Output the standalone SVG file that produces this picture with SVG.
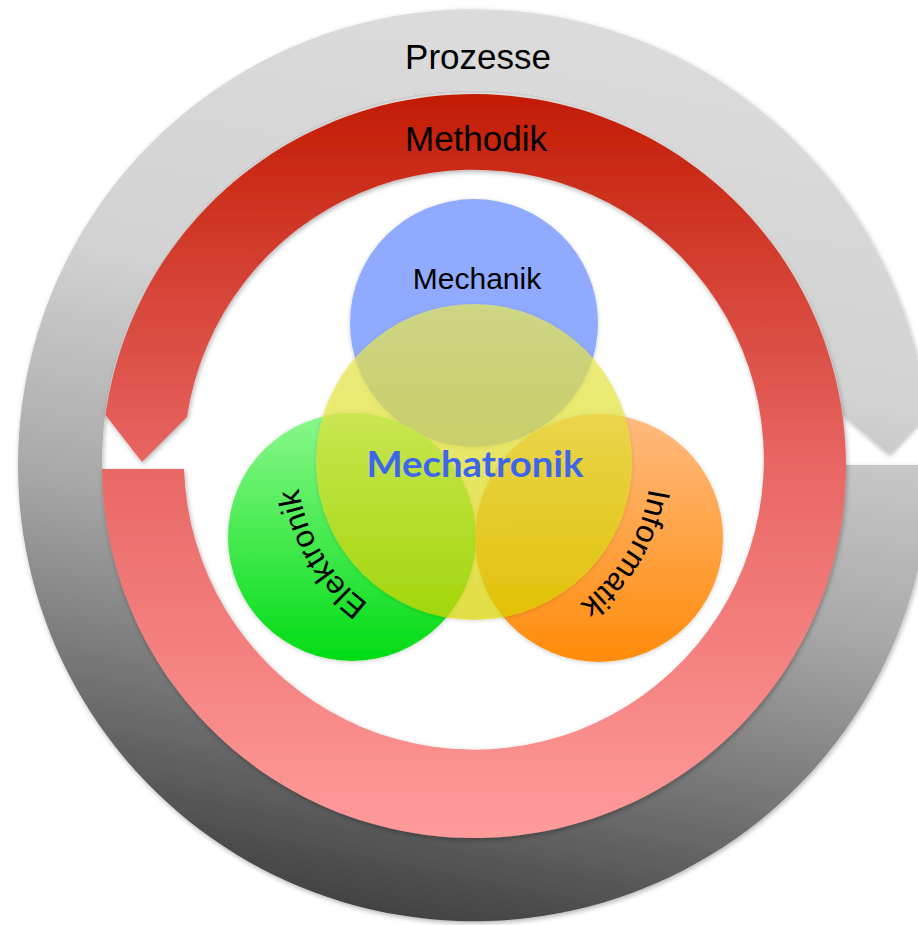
<svg xmlns="http://www.w3.org/2000/svg" width="918" height="925" viewBox="0 0 918 925">
  <defs>
    <linearGradient id="gGray" x1="0.6" y1="0" x2="0.4" y2="1">
      <stop offset="0" stop-color="#dcdcdc"/>
      <stop offset="0.35" stop-color="#d2d2d2"/>
      <stop offset="0.6" stop-color="#a8a8a8"/>
      <stop offset="1" stop-color="#404040"/>
    </linearGradient>
    <linearGradient id="gRed" x1="0.5" y1="0" x2="0.5" y2="1">
      <stop offset="0" stop-color="#c21c04"/>
      <stop offset="0.5" stop-color="#e86764"/>
      <stop offset="1" stop-color="#ff9b9b"/>
    </linearGradient>
    <linearGradient id="gGreen" x1="0" y1="0" x2="0" y2="1">
      <stop offset="0" stop-color="#8cf88c"/>
      <stop offset="1" stop-color="#00dc14"/>
    </linearGradient>
    <linearGradient id="gOrange" x1="0" y1="0" x2="0" y2="1">
      <stop offset="0" stop-color="#ffbb80"/>
      <stop offset="1" stop-color="#ff8c0a"/>
    </linearGradient>
    <linearGradient id="gYellow" x1="0" y1="0" x2="0" y2="1">
      <stop offset="0" stop-color="#ecec58"/>
      <stop offset="1" stop-color="#ddd800"/>
    </linearGradient>
    <filter id="shadow" x="-10%" y="-10%" width="120%" height="120%">
      <feDropShadow dx="1" dy="2" stdDeviation="2.5" flood-color="#000" flood-opacity="0.3"/>
    </filter>
    <filter id="softShadow" x="-10%" y="-10%" width="120%" height="120%">
      <feDropShadow dx="0" dy="1" stdDeviation="2" flood-color="#000" flood-opacity="0.2"/>
    </filter>
    <path id="arcElek" d="M 443.26 636.31 A 177 177 0 0 1 307.67 401.46"/>
    <path id="arcInfo" d="M 640.33 401.46 A 177 177 0 0 1 504.74 636.31"/>
    <style>
      .lbl { font-family: "Liberation Sans", Arial, sans-serif; fill: #000; }
      .ring-lbl { font-size: 35px; text-anchor: middle; }
      .node-lbl { font-size: 30px; }
      .curve-lbl { font-size: 31.5px; }
      .main-lbl { font-family: Lato, "Open Sans", sans-serif; font-weight: bold; font-size: 36px; fill: #3d66ef; text-anchor: middle; }
    </style>
  </defs>

  <rect width="918" height="925" fill="#ffffff"/>

  <g id="prozesse">
    <path d="M 846 465 L 930 465 A 456 456 0 1 1 927 413 L 889 454 L 843 415 A 372 372 0 1 0 846 465 Z" fill="url(#gGray)" filter="url(#shadow)"/>
    <text class="lbl ring-lbl" x="478" y="69">Prozesse</text>
  </g>

  <g id="methodik">
    <path d="M 184 469 L 102 469 A 372 372 0 1 0 105.5 415 L 142 462 L 187 417 A 290 290 0 1 1 184 469 Z" fill="url(#gRed)" filter="url(#shadow)"/>
    <text class="lbl ring-lbl" x="476" y="151">Methodik</text>
  </g>

  <g id="mechanik">
    <circle cx="474" cy="323" r="124" fill="#8faaff" filter="url(#softShadow)"/>
    <text class="lbl node-lbl" x="477" y="289" text-anchor="middle">Mechanik</text>
  </g>

  <g id="elektronik">
    <circle cx="352" cy="537" r="124" fill="url(#gGreen)" filter="url(#softShadow)"/>
  </g>

  <g id="informatik">
    <circle cx="599" cy="538" r="124" fill="url(#gOrange)" filter="url(#softShadow)"/>
  </g>

  <g id="mechatronik">
    <circle cx="474" cy="462" r="158" fill="url(#gYellow)" fill-opacity="0.68" filter="url(#softShadow)"/>
    <text class="main-lbl" x="475" y="477" textLength="217" lengthAdjust="spacingAndGlyphs">Mechatronik</text>
  </g>

  <g id="labels-curved">
    <text class="lbl curve-lbl"><textPath href="#arcElek" startOffset="49%" text-anchor="middle">Elektronik</textPath></text>
    <text class="lbl curve-lbl"><textPath href="#arcInfo" startOffset="51%" text-anchor="middle">Informatik</textPath></text>
  </g>
</svg>
